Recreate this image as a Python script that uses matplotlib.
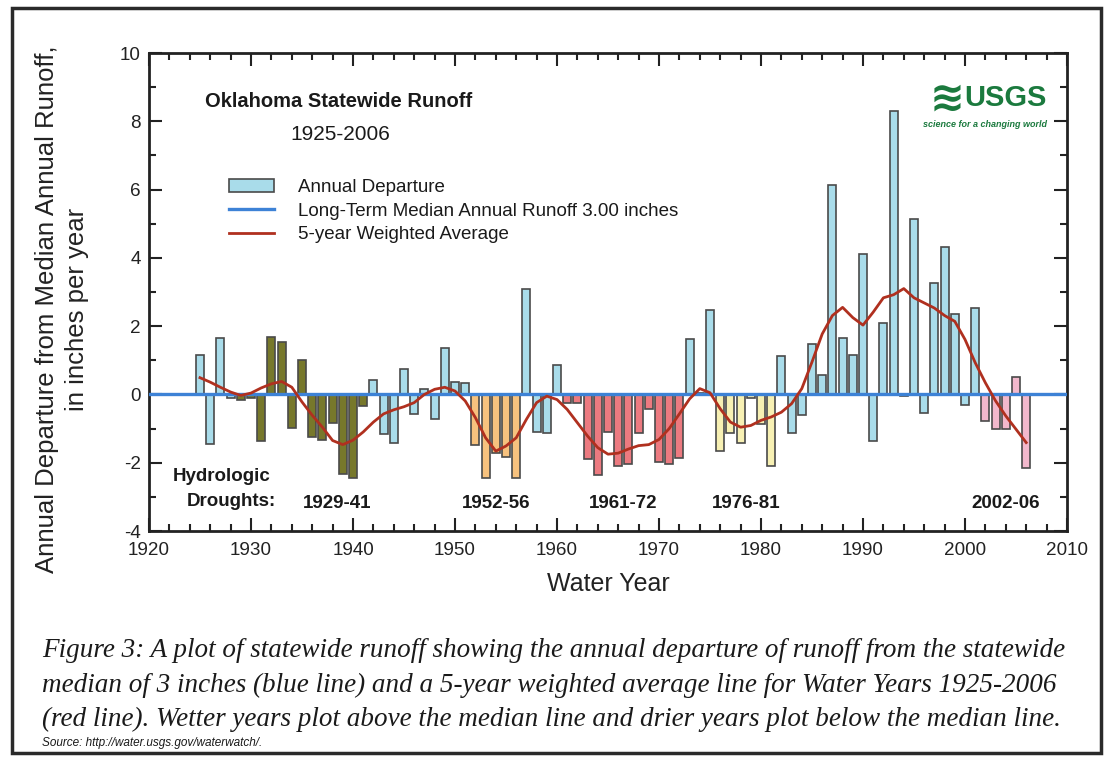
import numpy as np
import matplotlib.pyplot as plt
from matplotlib.patches import Rectangle, Patch
from matplotlib.lines import Line2D
from matplotlib.ticker import MultipleLocator

plt.rcParams['font.family'] = ['Liberation Sans', 'DejaVu Sans']
plt.rcParams['axes.unicode_minus'] = False

# ---- data ----
years = list(range(1925, 2007))
departure = [
    1.16, -1.44, 1.65, -0.10, -0.15, -0.10, -1.37, 1.68, 1.53, -0.98,   # 1925-1934
    1.01, -1.25, -1.33, -0.84, -2.32, -2.44, -0.34, 0.43, -1.15, -1.42,  # 1935-1944
    0.75, -0.57, 0.15, -0.73, 1.35, 0.37, 0.34, -1.49, -2.46, -1.71,     # 1945-1954
    -1.82, -2.44, 3.10, -1.10, -1.14, 0.85, -0.26, -0.24, -1.88, -2.36,  # 1955-1964
    -1.10, -2.10, -2.05, -1.13, -0.42, -1.98, -2.03, -1.86, 1.63, 0.03,  # 1965-1974
    2.46, -1.66, -1.13, -1.41, -0.11, -0.86, -2.11, 1.12, -1.12, -0.61,  # 1975-1984
    1.48, 0.57, 6.13, 1.66, 1.15, 4.12, -1.36, 2.10, 8.31, -0.05,        # 1985-1994
    5.14, -0.54, 3.25, 4.31, 2.37, -0.32, 2.53, -0.78, -1.00, -1.02,     # 1995-2004
    0.51, -2.16,                                                         # 2005-2006
]
weighted_avg = [
    0.49, 0.36, 0.21, 0.07, -0.03, 0.04, 0.19, 0.31, 0.38, 0.21,
    -0.22, -0.61, -0.96, -1.35, -1.47, -1.34, -1.10, -0.81, -0.57, -0.45,
    -0.36, -0.24, 0.00, 0.15, 0.21, 0.10, -0.19, -0.68, -1.27, -1.66,
    -1.51, -1.27, -0.73, -0.24, -0.05, -0.15, -0.44, -0.83, -1.22, -1.56,
    -1.75, -1.72, -1.60, -1.50, -1.47, -1.32, -1.00, -0.57, -0.13, 0.17,
    0.05, -0.42, -0.81, -0.96, -0.91, -0.76, -0.66, -0.52, -0.27, 0.17,
    0.95, 1.77, 2.31, 2.55, 2.25, 2.03, 2.41, 2.83, 2.92, 3.10,
    2.83, 2.68, 2.53, 2.31, 2.14, 1.61, 0.93, 0.34, -0.19, -0.63,
    -1.02, -1.41,
]
drought_start = [1929, 1952, 1961, 1976, 2002]
drought_end = [1941, 1956, 1972, 1981, 2006]
drought_labels = ['1929-41', '1952-56', '1961-72', '1976-81', '2002-06']
drought_colors = ['#77782b', '#f7c27e', '#ec7a80', '#f7f0b3', '#f2b8cc']
normal_color = '#a9dcea'

# bar colours by drought period
bar_colors = []
for y in years:
    c = normal_color
    for s, e, dc in zip(drought_start, drought_end, drought_colors):
        if s <= y <= e:
            c = dc
    bar_colors.append(c)

fig = plt.figure(figsize=(11.09, 7.6), dpi=100)
ax = fig.add_axes([149 / 1109, 1 - 531 / 760, 918 / 1109, 478 / 760])

ax.bar(years, departure, width=0.78, color=bar_colors, edgecolor='#4a4a4a',
       linewidth=1.2, zorder=2)
ax.axhline(0, color='#3d82d6', linewidth=2.4, zorder=3)
ax.plot(years, weighted_avg, color='#b0301f', linewidth=2.0, zorder=4)

ax.set_xlim(1920, 2010)
ax.set_ylim(-4, 10)
ax.xaxis.set_major_locator(MultipleLocator(10))
ax.xaxis.set_minor_locator(MultipleLocator(2))
ax.yaxis.set_major_locator(MultipleLocator(2))
ax.yaxis.set_minor_locator(MultipleLocator(1))
ax.tick_params(which='both', direction='in', top=True, right=True,
               width=1.5, color='#222222', labelsize=13.6, labelcolor='#222222')
ax.tick_params(which='major', length=9.5, pad=6)
ax.tick_params(axis='x', which='major', pad=8)
ax.tick_params(which='minor', length=5)
for sp in ax.spines.values():
    sp.set_linewidth(2)
    sp.set_color('#222222')

ax.set_xlabel('Water Year', fontsize=18, color='#222222', labelpad=9)
fig.text(62 / 1109, 1 - 309 / 760,
         'Annual Departure from Median Annual Runoff,\nin inches per year',
         rotation=90, ha='center', va='center', multialignment='center',
         fontsize=18.5, color='#222222', linespacing=1.3)

# titles
ax.text(0.061, 0.898, 'Oklahoma Statewide Runoff', transform=ax.transAxes,
        fontsize=14.5, fontweight='bold', color='#1a1a1a', va='center')
ax.text(0.1536, 0.830, '1925-2006', transform=ax.transAxes,
        fontsize=15, color='#1a1a1a', va='center')

handles = [Patch(facecolor=normal_color, edgecolor='#4a4a4a', linewidth=1.2),
           Line2D([], [], color='#3d82d6', linewidth=2.4),
           Line2D([], [], color='#b0301f', linewidth=2.0)]
labels = ['Annual Departure', 'Long-Term Median Annual Runoff 3.00 inches',
          '5-year Weighted Average']
ax.legend(handles, labels, loc='upper left',
          bbox_to_anchor=((229 - 149) / 918, (531 - 179) / 478),
          frameon=False, fontsize=13.5, handlelength=2.4, handleheight=0.65,
          handletextpad=1.3, labelspacing=0.35, borderpad=0, borderaxespad=0,
          labelcolor='#1a1a1a')

# drought labels
ax.text(0.026, 0.113, 'Hydrologic', transform=ax.transAxes, fontsize=13.5,
        fontweight='bold', color='#1a1a1a', va='center')
ax.text(0.041, 0.061, 'Droughts:', transform=ax.transAxes, fontsize=13.5,
        fontweight='bold', color='#1a1a1a', va='center')
for s, e, lab in zip(drought_start, drought_end, drought_labels):
    ax.text((s + e) / 2 + 3.4 if s == 1929 else (s + e) / 2, -3.2, lab,
            fontsize=13.5, fontweight='bold', color='#1a1a1a',
            ha='center', va='center')

# USGS logo (as text)
ax.text(0.869, 0.905, '\u224b', transform=ax.transAxes, fontsize=30,
        fontweight='bold', color='#1b7a3e', ha='center', va='center',
        family=['DejaVu Sans'])
ax.text(0.933, 0.905, 'USGS', transform=ax.transAxes, fontsize=21,
        fontweight='bold', color='#1b7a3e', ha='center', va='center',
        family=['Liberation Sans Narrow', 'Liberation Sans'])
ax.text(0.911, 0.850, 'science for a changing world', transform=ax.transAxes,
        fontsize=6.5, fontweight='bold', style='italic', color='#1b7a3e',
        ha='center', va='center')

# caption
caption = ('Figure 3: A plot of statewide runoff showing the annual departure of runoff from the statewide\n'
           'median of 3 inches (blue line) and a 5-year weighted average line for Water Years 1925-2006\n'
           '(red line). Wetter years plot above the median line and drier years plot below the median line.')
fig.text(42 / 1109, 1 - 638 / 760, caption, family=['Liberation Serif'],
         style='italic', fontsize=19.5, color='#1a1a1a', va='top',
         linespacing=1.5)
fig.text(42 / 1109, 1 - 743 / 760, 'Source: http://water.usgs.gov/waterwatch/.',
         style='italic', fontsize=8.5, color='#1a1a1a', va='center')

# outer frame
fig.add_artist(Rectangle((12 / 1109, 7 / 760), 1089 / 1109, 745 / 760,
                         transform=fig.transFigure, fill=False,
                         edgecolor='#2a2a2a', linewidth=2.5))

fig.savefig('out.png', dpi=100)
